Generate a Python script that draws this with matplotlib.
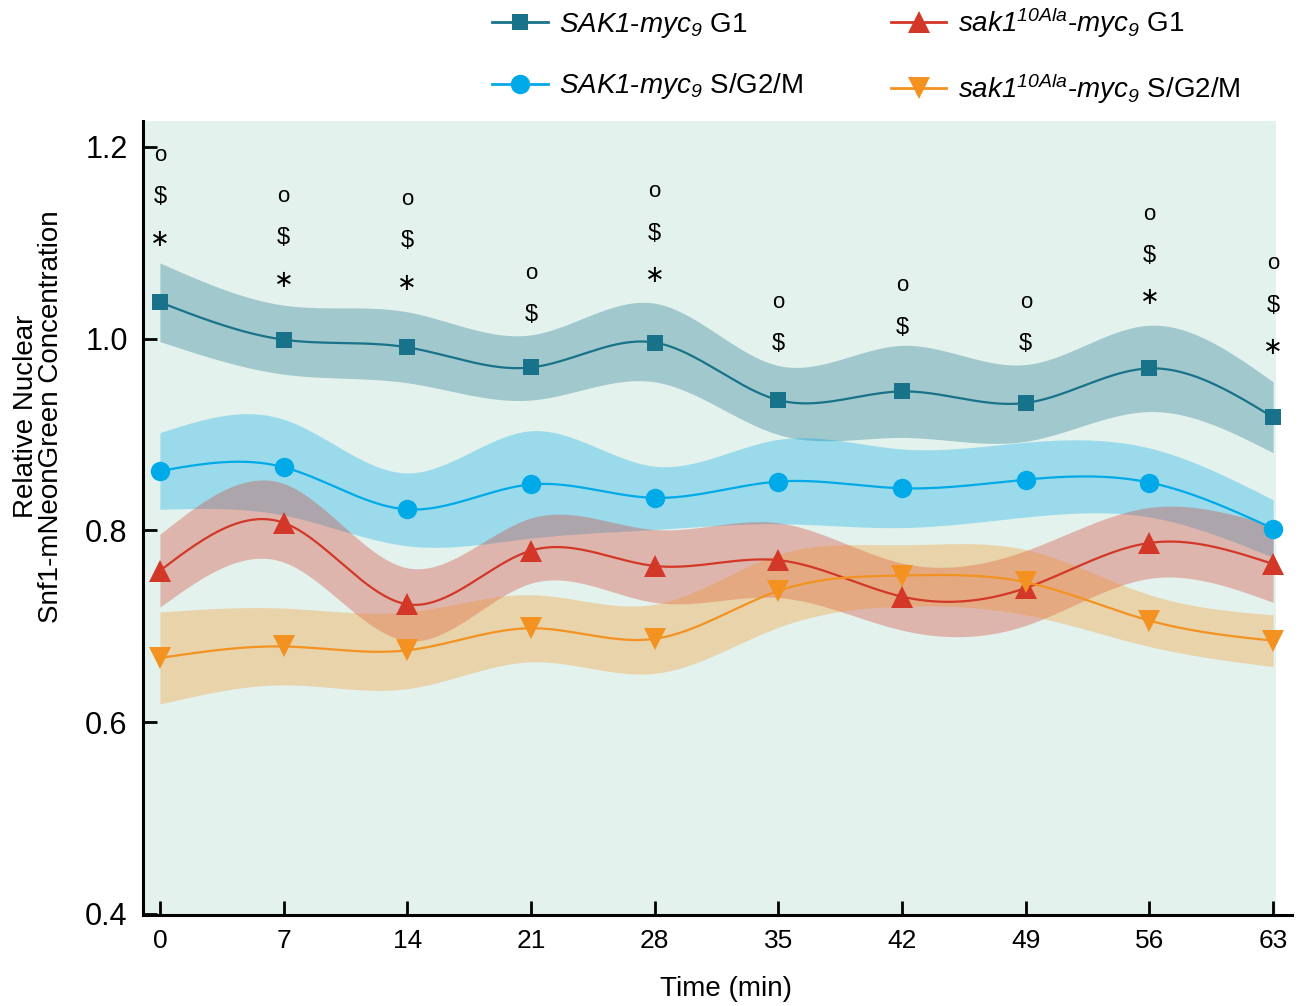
import numpy as np
import matplotlib
matplotlib.use("Agg")
import matplotlib.pyplot as plt
from matplotlib.lines import Line2D

plt.rcParams['font.family'] = ['Liberation Sans', 'DejaVu Sans']
plt.rcParams['mathtext.fontset'] = 'custom'
plt.rcParams['mathtext.rm'] = 'Liberation Sans'
plt.rcParams['mathtext.it'] = 'Liberation Sans:italic'
plt.rcParams['mathtext.sf'] = 'Liberation Sans:italic'
plt.rcParams['mathtext.bf'] = 'Liberation Sans:bold'

#%% Data
time = [0, 7, 14, 21, 28, 35, 42, 49, 56, 63]

sak_g1 = [1.038, 0.999, 0.991, 0.970, 0.996, 0.936, 0.945, 0.933, 0.969, 0.918]
sak_g1_err = [0.041, 0.036, 0.037, 0.034, 0.041, 0.036, 0.048, 0.040, 0.045, 0.037]

sak_s = [0.862, 0.866, 0.822, 0.848, 0.834, 0.851, 0.844, 0.853, 0.850, 0.802]
sak_s_err = [0.040, 0.050, 0.038, 0.056, 0.033, 0.044, 0.041, 0.039, 0.036, 0.030]

ala_g1 = [0.758, 0.808, 0.723, 0.779, 0.763, 0.769, 0.731, 0.740, 0.787, 0.765]
ala_g1_err = [0.038, 0.041, 0.038, 0.034, 0.038, 0.039, 0.035, 0.039, 0.037, 0.040]

ala_s = [0.667, 0.679, 0.675, 0.698, 0.687, 0.737, 0.753, 0.746, 0.706, 0.685]
ala_s_err = [0.048, 0.040, 0.040, 0.035, 0.036, 0.038, 0.032, 0.034, 0.027, 0.027]

# significance marks above each time point (top symbol height, symbols top->down)
sig_top = [1.191, 1.148, 1.145, 1.068, 1.153, 1.038, 1.055, 1.038, 1.130, 1.078]
sig_marks = [["o", "$", "*"], ["o", "$", "*"], ["o", "$", "*"], ["o", "$"],
             ["o", "$", "*"], ["o", "$"], ["o", "$"], ["o", "$"],
             ["o", "$", "*"], ["o", "$", "*"]]

labels = [r"$\mathsf{SAK1}$-$\mathsf{myc}_{\mathsf{9}}$ G1",
          r"$\mathsf{SAK1}$-$\mathsf{myc}_{\mathsf{9}}$ S/G2/M",
          r"$\mathsf{sak1}^{\mathsf{10Ala}}$-$\mathsf{myc}_{\mathsf{9}}$ G1",
          r"$\mathsf{sak1}^{\mathsf{10Ala}}$-$\mathsf{myc}_{\mathsf{9}}$ S/G2/M"]


#%% Natural cubic spline, only used to draw the smooth curves
def smooth(x, y, n=400):
    x = np.asarray(x, float)
    y = np.asarray(y, float)
    k = len(x)
    h = np.diff(x)
    A = np.zeros((k, k))
    r = np.zeros(k)
    A[0, 0] = A[-1, -1] = 1
    for i in range(1, k - 1):
        A[i, i - 1] = h[i - 1]
        A[i, i] = 2 * (h[i - 1] + h[i])
        A[i, i + 1] = h[i]
        r[i] = 6 * ((y[i + 1] - y[i]) / h[i] - (y[i] - y[i - 1]) / h[i - 1])
    m = np.linalg.solve(A, r)
    xs = np.linspace(x[0], x[-1], n)
    idx = np.clip(np.searchsorted(x, xs) - 1, 0, k - 2)
    x0, x1 = x[idx], x[idx + 1]
    hh = x1 - x0
    a = (x1 - xs) / hh
    b = (xs - x0) / hh
    ys = a * y[idx] + b * y[idx + 1] + ((a**3 - a) * m[idx] + (b**3 - b) * m[idx + 1]) * hh**2 / 6
    return xs, ys


#%% Plot
fig = plt.figure(figsize=(13.03, 10.06), dpi=100)
ax = fig.add_axes([0.1097, 0.0905, 0.8819, 0.7892])
ax.set_xlim(-0.96, 64.07)
ax.set_ylim(0.399, 1.227)
ax.set_facecolor('white')
ax.axvspan(-0.96, 63.17, color='#E3F2EC', lw=0, zorder=0)

series = [
    (sak_g1, sak_g1_err, '#18728A', 's', 12),
    (sak_s, sak_s_err, '#00AAE8', 'o', 14),
    (ala_g1, ala_g1_err, '#D33728', '^', 16),
    (ala_s, ala_s_err, '#F39221', 'v', 16),
]

for vals, err, c, mk, ms in series:
    v = np.array(vals)
    e = np.array(err)
    xs, hi = smooth(time, v + e)
    _, lo = smooth(time, v - e)
    ax.fill_between(xs, lo, hi, color=c, alpha=0.32, lw=0, zorder=1)

handles = []
for i, (vals, err, c, mk, ms) in enumerate(series):
    xs, ys = smooth(time, vals)
    ax.plot(xs, ys, color=c, lw=1.6, zorder=3 + i)
    ax.plot(time, vals, ls='none', marker=mk, ms=ms, color=c, mew=0, zorder=3 + i)
    handles.append(Line2D([], [], color=c, lw=2, marker=mk, ms=ms, mew=0))

# significance symbols
step = 0.0435
for t, top, marks in zip(time, sig_top, sig_marks):
    for j, s in enumerate(marks):
        y = top - j * step
        if s == "o":
            ax.text(t, y, "o", ha='center', va='center', fontsize=16, zorder=6)
        elif s == "$":
            ax.text(t, y, r"\$", ha='center', va='center', fontsize=17, zorder=6)
        else:
            ax.text(t, y, "\u2217", ha='center', va='center', fontsize=17,
                    family='DejaVu Sans', zorder=6)

for sp in ['top', 'right']:
    ax.spines[sp].set_visible(False)
for sp in ['left', 'bottom']:
    ax.spines[sp].set_linewidth(2.2)

ax.set_xticks(time)
ax.set_xticklabels([str(t) for t in time], fontsize=19)
ax.set_yticks([0.4, 0.6, 0.8, 1.0, 1.2])
ax.set_yticklabels(['0.4', '0.6', '0.8', '1.0', '1.2'], fontsize=22)
ax.tick_params(direction='in', length=10, width=2)
ax.tick_params(axis='y', pad=11)
ax.tick_params(axis='x', pad=10)

ax.set_xlabel("Time (min)", fontsize=20)
ax.xaxis.set_label_coords(0.507, -0.077)
ax.set_ylabel("Relative Nuclear\nSnf1-mNeonGreen Concentration", fontsize=20,
              linespacing=0.95)
ax.yaxis.set_label_coords(-0.0688, 0.628)

fig.legend(handles, labels, ncol=2,
           loc='upper left', bbox_to_anchor=(0.3737, 1.0), frameon=False,
           fontsize=20, handlelength=2.0, handletextpad=0.4, columnspacing=3.15,
           labelspacing=1.13, borderpad=0.2, borderaxespad=0)

fig.savefig('out.png', dpi=100)
